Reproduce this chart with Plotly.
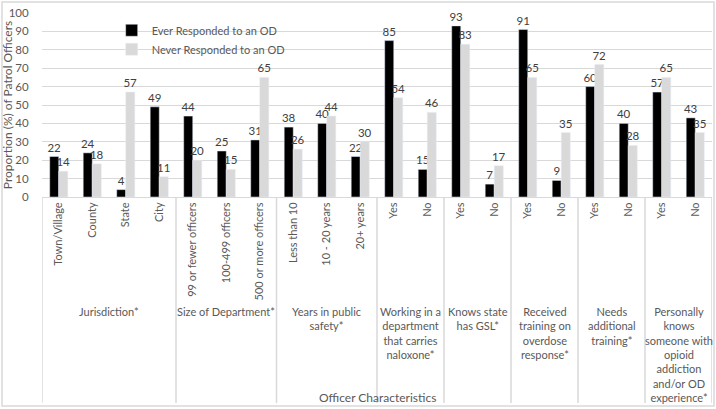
import plotly.graph_objects as go

categories = ["Town/Village", "County", "State", "City",
              "99 or fewer officers", "100-499 officers", "500 or more officers",
              "Less than 10", "10 - 20 years", "20+ years",
              "Yes", "No", "Yes", "No", "Yes", "No", "Yes", "No", "Yes", "No"]
ever = [22, 24, 4, 49, 44, 25, 31, 38, 40, 22, 85, 15, 93, 7, 91, 9, 60, 40, 57, 43]
never = [14, 18, 57, 11, 20, 15, 65, 26, 44, 30, 54, 46, 83, 17, 65, 35, 72, 28, 65, 35]
groups = ["Jurisdiction*", "Size of Department*", "Years in public<br>safety*",
          "Working in a<br>department<br>that carries<br>naloxone*",
          "Knows state<br>has GSL*",
          "Received<br>training on<br>overdose<br>response*",
          "Needs<br>additional<br>training*",
          "Personally<br>knows<br>someone with<br>opioid<br>addiction<br>and/or OD<br>experience*"]
group_sizes = [4, 3, 3, 2, 2, 2, 2, 2]

FONT = "Lato"
TXT = "#595959"
GRID = "#d9d9d9"

xs = list(range(len(categories)))

fig = go.Figure()
fig.add_trace(go.Bar(x=xs, y=ever, name="Ever Responded to an OD",
                     marker_color="#000000", text=ever, textposition="outside",
                     textfont=dict(color="#404040", size=11.5, family=FONT),
                     constraintext="none", cliponaxis=False))
fig.add_trace(go.Bar(x=xs, y=never, name="Never Responded to an OD",
                     marker_color="#d9d9d9", text=never, textposition="outside",
                     textfont=dict(color="#404040", size=11.5, family=FONT),
                     constraintext="none", cliponaxis=False))

shapes = []
annotations = []
start = -0.5
bounds = [start]
for g, n in zip(groups, group_sizes):
    center = start + n / 2
    annotations.append(dict(x=center, xref="x", y=-0.575, yref="paper",
                            text=g, showarrow=False, yanchor="top", xanchor="center",
                            font=dict(family=FONT, size=11, color=TXT)))
    start += n
    bounds.append(start)
for b in bounds:
    shapes.append(dict(type="line", xref="x", yref="paper", x0=b, x1=b,
                       y0=0, y1=-1.12, line=dict(color=GRID, width=1.5)))
# chart border
shapes.append(dict(type="rect", xref="paper", yref="paper", x0=-0.0597, x1=1.003,
                   y0=-1.136, y1=1.06, line=dict(color=GRID, width=1.5), layer="below"))

annotations.append(dict(x=0.5, xref="paper", y=-1.087, yref="paper",
                        text="Officer Characteristics", showarrow=False,
                        yanchor="middle", font=dict(family=FONT, size=12, color=TXT)))

fig.update_layout(
    width=716, height=409,
    margin=dict(l=42, r=4, t=13, b=212),
    paper_bgcolor="white", plot_bgcolor="white",
    barmode="group", bargap=0.46, bargroupgap=0,
    font=dict(family=FONT, size=11, color=TXT),
    shapes=shapes, annotations=annotations,
    legend=dict(x=0.104, y=0.985, xanchor="left", yanchor="top",
                bgcolor="rgba(0,0,0,0)", font=dict(family=FONT, size=11, color=TXT),
                itemwidth=30, tracegroupgap=0),
    xaxis=dict(tickmode="array", tickvals=xs, ticktext=categories, tickangle=-90,
               range=[-0.5, len(categories) - 0.5], showgrid=False, zeroline=False,
               showline=True, linecolor=GRID, linewidth=1, ticks="",
               automargin=False,
               tickfont=dict(family=FONT, size=11, color=TXT)),
    yaxis=dict(range=[0, 100], dtick=10, showgrid=True, gridcolor=GRID, gridwidth=1,
               zeroline=False, showline=False, ticks="outside", ticklen=8,
               tickcolor="white", ticklabelstandoff=2,
               automargin=False,
               tickfont=dict(family=FONT, size=11.5, color=TXT),
               title=dict(text="Proportion (%) of Patrol Officers",
                          font=dict(family=FONT, size=12, color=TXT), standoff=0)),
)

fig.write_html("out.html", config={"displayModeBar": False},
               post_script="document.body.style.margin='0';document.body.style.padding='0';")
